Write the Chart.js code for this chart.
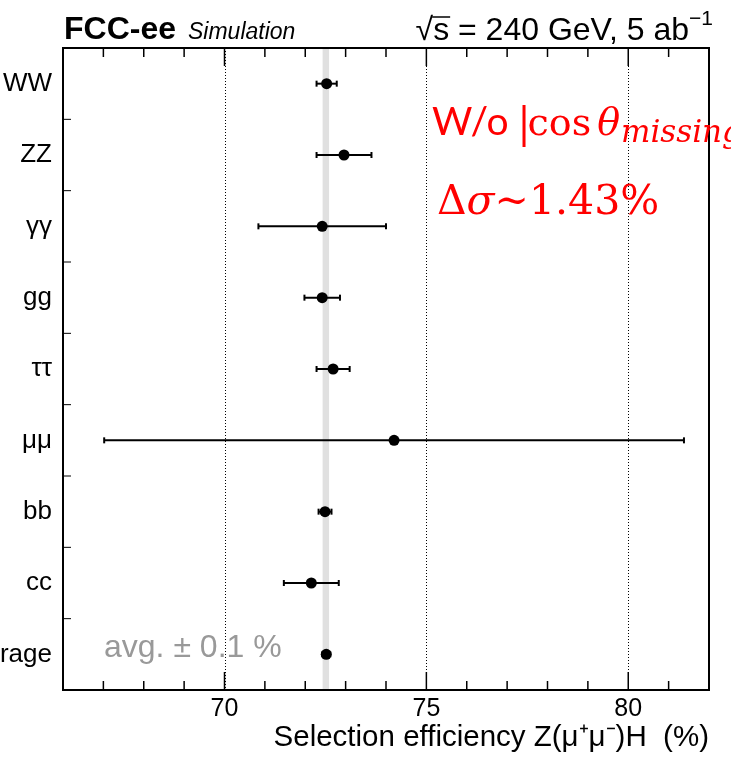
<!DOCTYPE html>
<html>
<head>
<meta charset="utf-8">
<script src="https://cdn.jsdelivr.net/npm/chart.js@4.4.1/dist/chart.umd.min.js"></script>
<style>
    body { margin: 0; background: #fff; }
    canvas { display: block; }
</style>
</head>
<body>
<canvas id="chart" width="731" height="757"></canvas>

<script>
    // values
    var categories = ['WW', 'ZZ', 'γγ', 'gg', 'ττ', 'μμ', 'bb', 'cc', 'average'];
    var efficiency = [72.53, 72.96, 72.42, 72.42, 72.69, 74.20, 72.49, 72.15, 72.52];
    var uncertainty = [0.25, 0.68, 1.58, 0.44, 0.41, 7.18, 0.16, 0.68, 0.10];
    var avgBand = [72.43, 72.59];
    var majorTicks = [70, 75, 80];
    var minorTicks = [66, 67, 68, 69, 70, 71, 72, 73, 74, 75, 76, 77, 78, 79, 80, 81, 82];

    var sans = '"Liberation Sans", Arial, sans-serif';
    var serif = '"DejaVu Serif", "Liberation Serif", serif';

    function line(ctx, x0, y0, x1, y1) {
        ctx.beginPath();
        ctx.moveTo(x0, y0);
        ctx.lineTo(x1, y1);
        ctx.stroke();
    }

    var decor = {
        id: 'decor',
        beforeDatasetsDraw: function (chart) {
            var ctx = chart.ctx, a = chart.chartArea;
            var x = chart.scales.x, y = chart.scales.y;
            ctx.save();
            // grey band of the average
            var b0 = x.getPixelForValue(avgBand[0]), b1 = x.getPixelForValue(avgBand[1]);
            ctx.fillStyle = '#e0e0e0';
            ctx.fillRect(b0, a.top, b1 - b0, a.bottom - a.top);
            // dotted grid at major ticks
            ctx.strokeStyle = '#000';
            ctx.lineWidth = 1;
            ctx.setLineDash([1, 2]);
            majorTicks.forEach(function (v) {
                var px = Math.round(x.getPixelForValue(v)) + 0.5;
                line(ctx, px, a.top, px, a.bottom);
            });
            ctx.setLineDash([]);
            // error bars
            ctx.lineWidth = 2;
            efficiency.forEach(function (v, i) {
                var py = y.getPixelForValue(i);
                var lo = x.getPixelForValue(v - uncertainty[i]);
                var hi = x.getPixelForValue(v + uncertainty[i]);
                line(ctx, lo, py, hi, py);
                line(ctx, lo, py - 3, lo, py + 3);
                line(ctx, hi, py - 3, hi, py + 3);
            });
            ctx.restore();
        },
        afterDraw: function (chart) {
            var ctx = chart.ctx, a = chart.chartArea;
            var x = chart.scales.x, y = chart.scales.y;
            ctx.save();
            // frame
            ctx.strokeStyle = '#000';
            ctx.lineWidth = 2;
            ctx.strokeRect(a.left, a.top, a.right - a.left, a.bottom - a.top);
            // x ticks, bottom and top
            ctx.lineWidth = 1.5;
            minorTicks.forEach(function (v) {
                var px = x.getPixelForValue(v);
                var len = majorTicks.indexOf(v) >= 0 ? 18 : 9;
                line(ctx, px, a.bottom, px, a.bottom - len);
                line(ctx, px, a.top, px, a.top + len);
            });
            // y ticks at category boundaries
            ctx.lineWidth = 1;
            for (var i = 0; i < categories.length - 1; i++) {
                var py = y.getPixelForValue(i + 0.5);
                line(ctx, a.left, py, a.left + 8, py);
            }

            // header
            ctx.fillStyle = '#000';
            ctx.textBaseline = 'alphabetic';
            ctx.textAlign = 'left';
            ctx.font = 'bold 32px ' + sans;
            ctx.fillText('FCC-ee', 64, 39);
            ctx.font = 'italic 23px ' + sans;
            ctx.fillText('Simulation', 188, 39);

            ctx.font = '21px ' + sans;
            var sup = '−1';
            var supW = ctx.measureText(sup).width;
            ctx.font = '32px ' + sans;
            var mainTxt = '√s = 240 GeV, 5 ab';
            var mainW = ctx.measureText(mainTxt).width;
            var right = 713;
            var sx = right - supW - mainW;
            ctx.fillText(mainTxt, sx, 40);
            // overline of the square root
            var rw = ctx.measureText('√').width, sw = ctx.measureText('√s').width;
            ctx.lineWidth = 1.5;
            line(ctx, sx + rw - 1, 17, sx + sw + 1, 17);
            ctx.font = '21px ' + sans;
            ctx.fillText(sup, right - supW, 25);

            // red annotation
            ctx.fillStyle = '#ff0000';
            var cx = 432;
            ctx.font = '39px Lato, "Open Sans", sans-serif';
            ctx.fillText('W/o', cx, 135);
            cx += ctx.measureText('W/o').width + 14;
            ctx.fillRect(cx, 105, 3, 42);
            cx += 5;
            ctx.font = '38px ' + serif;
            ctx.fillText('cos', cx, 135);
            cx += ctx.measureText('cos').width + 6;
            ctx.font = 'italic 38px ' + serif;
            ctx.fillText('θ', cx, 135);
            cx += ctx.measureText('θ').width + 1;
            ctx.font = 'italic 31px ' + serif;
            ctx.fillText('missing', cx, 142);

            cx = 437;
            ctx.font = '41px ' + serif;
            ctx.fillText('Δ', cx, 214);
            cx += ctx.measureText('Δ').width;
            ctx.font = 'italic 41px ' + serif;
            ctx.fillText('σ', cx, 214);
            cx += ctx.measureText('σ').width;
            ctx.font = '41px ' + serif;
            ctx.fillText('~1.43%', cx, 214);

            // average label
            ctx.fillStyle = '#999999';
            ctx.font = '32px ' + sans;
            ctx.fillText('avg. ± 0.1 %', 104, 657);
            ctx.restore();
        }
    };

    var ctx = document.getElementById('chart').getContext('2d');
    var config = {
        type: 'scatter',
        data: {
            datasets: [{
                data: efficiency.map(function (v, i) { return { x: v, y: i }; }),
                pointRadius: 5.5,
                pointHoverRadius: 5.5,
                pointBackgroundColor: '#000',
                pointBorderColor: '#000',
                pointBorderWidth: 0
            }]
        },
        options: {
            responsive: false,
            animation: false,
            events: [],
            layout: { padding: { top: 48, right: 22, left: 0, bottom: 0 } },
            plugins: {
                legend: { display: false },
                tooltip: { enabled: false }
            },
            scales: {
                x: {
                    type: 'linear',
                    min: 66,
                    max: 82,
                    afterBuildTicks: function (s) {
                        s.ticks = majorTicks.map(function (v) { return { value: v }; });
                    },
                    afterFit: function (s) { s.height = 67; },
                    grid: { display: false, drawTicks: false },
                    border: { display: false },
                    ticks: {
                        color: '#000',
                        padding: 4,
                        font: { family: sans, size: 25 }
                    },
                    title: {
                        display: true,
                        text: 'Selection efficiency Z(μ⁺μ⁻)H  (%)',
                        align: 'end',
                        color: '#000',
                        font: { family: sans, size: 29.5 },
                        padding: { top: 0, bottom: 1 }
                    }
                },
                y: {
                    type: 'linear',
                    min: -0.5,
                    max: 8.5,
                    reverse: true,
                    afterBuildTicks: function (s) {
                        s.ticks = categories.map(function (c, i) { return { value: i }; });
                    },
                    afterFit: function (s) { s.width = 63; },
                    grid: { display: false, drawTicks: false },
                    border: { display: false },
                    ticks: {
                        autoSkip: false,
                        color: '#000',
                        padding: 11,
                        font: { family: sans, size: 26 },
                        callback: function (v) { return categories[v]; }
                    }
                }
            }
        },
        plugins: [decor]
    };

    var chart = new Chart(ctx, config);
</script>
</body>
</html>
